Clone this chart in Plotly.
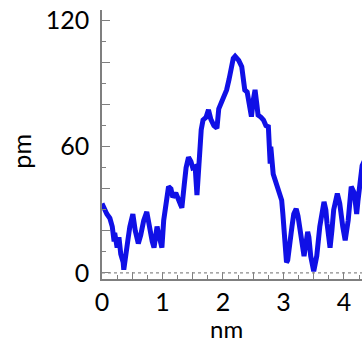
import plotly.graph_objects as go

# Height profile
x_nm = [0.00, 0.03, 0.08, 0.13, 0.17, 0.20, 0.21, 0.25, 0.28, 0.31, 0.35, 0.36, 0.40, 0.43,
        0.46, 0.51, 0.55, 0.60, 0.64, 0.69, 0.74, 0.78, 0.83, 0.86, 0.91, 0.94, 0.99, 1.02,
        1.06, 1.10, 1.14, 1.17, 1.22, 1.26, 1.32, 1.36, 1.39, 1.43, 1.47, 1.50, 1.54, 1.57,
        1.60, 1.64, 1.67, 1.72, 1.76, 1.80, 1.85, 1.90, 1.93, 1.98, 2.02, 2.06, 2.10, 2.13,
        2.17, 2.20, 2.23, 2.26, 2.31, 2.33, 2.36, 2.40, 2.43, 2.47, 2.50, 2.53, 2.56, 2.58,
        2.63, 2.67, 2.71, 2.75, 2.78, 2.79, 2.83, 2.89, 2.93, 2.97, 2.99, 3.02, 3.05, 3.07,
        3.11, 3.14, 3.17, 3.21, 3.24, 3.27, 3.32, 3.34, 3.40, 3.42, 3.45, 3.50, 3.55, 3.60,
        3.67, 3.70, 3.72, 3.77, 3.80, 3.83, 3.89, 3.93, 3.98, 4.02, 4.07, 4.12, 4.17, 4.21,
        4.23, 4.26, 4.30, 4.35]
height_pm = [33, 31, 28, 26, 22, 15, 19, 12, 17, 9, 5, 1.5, 8, 16,
             22, 28, 20, 14, 18, 25, 29, 22, 15, 12, 22, 18, 12, 25,
             35, 41, 40, 36, 38, 34.6, 31, 42, 50, 55, 53, 50, 50.5, 37,
             55, 68, 72.7, 74, 77.5, 73, 70, 68.8, 78, 82, 84, 87, 92, 97,
             102, 103, 102, 101, 98, 92, 87, 86, 82, 74.3, 82, 87, 80, 75,
             74, 72.7, 70, 69.5, 52, 60, 47, 41, 38, 34.6, 28, 15, 5, 6,
             18, 22, 28, 30.5, 27, 20, 10, 8, 19.5, 17, 8, 0.8, 8, 22,
             33.8, 30, 23.6, 12, 20, 30, 37.7, 33, 22, 15.5, 25, 41, 38, 28,
             34, 44, 51, 54]

y_tickvals = [0, 20, 40, 60, 80, 100, 120]
y_ticktext = ["0", "", "", "60", "", "", "120"]
x_tickvals = [0, 0.5, 1, 1.5, 2, 2.5, 3, 3.5, 4]
x_ticktext = ["0", "", "1", "", "2", "", "3", "", "4"]
x_title = "nm"
y_title = "pm"

AXIS = "#7f7f7f"
FONT = dict(family="Lato, 'Open Sans', sans-serif", size=25, color="#000000")
XTITLE_FONT = dict(family="Lato, 'Open Sans', sans-serif", size=24, color="#000000")

fig = go.Figure()
fig.add_trace(go.Scatter(x=x_nm, y=height_pm, mode="lines",
                         line=dict(color="#1010e6", width=5), showlegend=False))

fig.add_shape(type="line", xref="paper", x0=0, x1=1, yref="y", y0=0, y1=0,
              line=dict(color="#8a8a8a", width=1.3, dash="dot"))

fig.add_annotation(text=x_title, xref="paper", yref="paper", x=0.48, y=-0.185,
                   xanchor="center", yanchor="middle", showarrow=False, font=XTITLE_FONT)
fig.add_annotation(text=y_title, xref="paper", yref="paper", x=-0.31, y=0.475,
                   xanchor="center", yanchor="middle", showarrow=False, font=FONT,
                   textangle=-90)

fig.update_layout(
    width=362, height=343,
    margin=dict(l=102, r=0, t=10, b=64),
    paper_bgcolor="white", plot_bgcolor="white",
    font=FONT,
    xaxis=dict(range=[0, 4.298], showgrid=False, zeroline=False, automargin=False,
               showline=True, linecolor=AXIS, linewidth=1.5,
               tickmode="array", tickvals=x_tickvals, ticktext=x_ticktext,
               ticks="inside", ticklen=7, tickcolor=AXIS, tickwidth=1.2,
               minor=dict(dtick=0.25, ticks="inside", ticklen=4, tickcolor=AXIS, tickwidth=1),
               ticklabelstandoff=0, ticklabeloverflow="allow", tickfont=FONT),
    yaxis=dict(range=[-2.9, 125], showgrid=False, zeroline=False, automargin=False,
               showline=True, linecolor=AXIS, linewidth=1.5,
               tickmode="array", tickvals=y_tickvals, ticktext=y_ticktext,
               ticks="inside", ticklen=8, tickcolor=AXIS, tickwidth=1.2,
               minor=dict(dtick=10, ticks="inside", ticklen=4, tickcolor=AXIS, tickwidth=1),
               ticklabelstandoff=6, ticklabeloverflow="allow", tickfont=FONT),
)

# remove the default 8px page margin so the 362x343 figure fills the window exactly
fig.write_html("out.html", config={"displayModeBar": False},
               post_script="document.body.style.margin='0';")
